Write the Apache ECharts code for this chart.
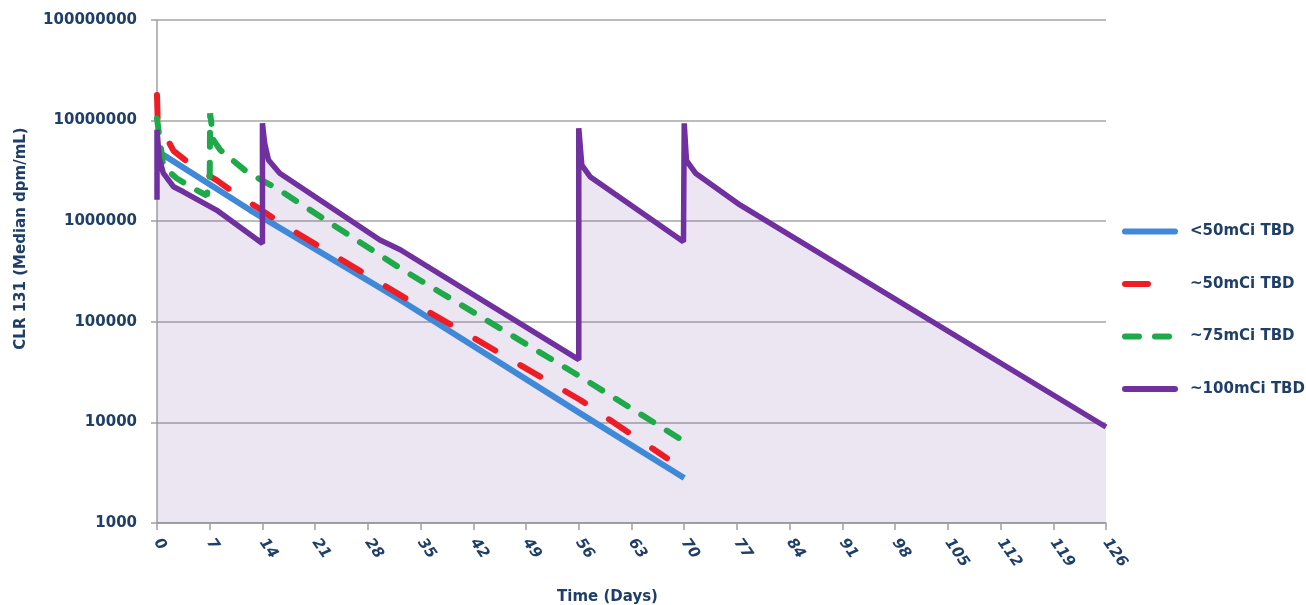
<!DOCTYPE html>
<html>
<head>
<meta charset="utf-8">
<script src="https://cdn.jsdelivr.net/npm/echarts@6/dist/echarts.min.js"></script>
<style>
  html, body { margin: 0; padding: 0; background: #fff; }
  #chart { width: 1306px; height: 605px; }
</style>
</head>
<body>
<div id="chart"></div>
<script>
// [day, median dpm/mL]
const blueData = [[0, 5.0e6], [12.35, 1.29e6], [32.3, 1.65e5], [56.2, 1.23e4], [70, 2800]];
const redData = [[0, 1.8e7], [0.1, 9.5e6], [0.8, 7.8e6], [2.2, 5.0e6], [4.8, 3.5e6], [7.9, 2.56e6],
    [11, 1.75e6], [13.2, 1.39e6], [17.2, 8.8e5], [34.5, 1.47e5], [56.2, 1.67e4], [67.7, 4400]];
const greenData = [[0, 1.05e7], [0.84, 3.5e6], [2.6, 2.67e6], [4.8, 2.12e6], [6.6, 1.8e6], [7.0, 2.5e6],
    [7.05, 1.18e7], [7.5, 6.4e6], [8.4, 5.1e6], [11.9, 3.1e6], [15.9, 2.12e6], [32.3, 3.4e5],
    [56.2, 2.85e4], [70.1, 6400]];
const purpleData = [[0, 1.63e6], [0, 8.1e6], [0.3, 4.2e6], [0.84, 3.0e6], [2.2, 2.2e6], [3.5, 1.96e6],
    [7.9, 1.29e6], [14, 6.0e5], [14, 9.4e6], [14.3, 5.9e6], [14.8, 4.06e6], [16.3, 3.0e6],
    [29.6, 6.5e5], [32.3, 5.2e5], [56, 4.2e4], [56, 8.4e6], [56.4, 3.6e6], [57.5, 2.77e6],
    [69.9, 6.25e5], [70, 6.25e5], [70, 9.4e6], [70.3, 4.0e6], [71.5, 3.0e6], [77.4, 1.45e6], [126, 9000]];
const seriesNames = ["<50mCi TBD", "~50mCi TBD", "~75mCi TBD", "~100mCi TBD"];

const textColor = "#1f3f68";
const font = "DejaVu Sans";

let chart = echarts.init(document.getElementById("chart"));

let option = {
    animation: false,
    grid: { left: 157, right: 200, top: 20, bottom: 82, outerBoundsMode: "none" },
    legend: {
        data: seriesNames,
        orient: "vertical",
        left: 1117,
        top: 219,
        itemWidth: 50,
        itemHeight: 14,
        itemGap: 37.5,
        itemStyle: { opacity: 0 },
        lineStyle: { width: 6, cap: "round" },
        textStyle: { color: textColor, fontFamily: font, fontWeight: "bold", fontSize: 15, padding: [0, 0, 0, 10] }
    },
    xAxis: {
        type: "value",
        min: 0,
        max: 126,
        interval: 7,
        name: "Time (Days)",
        nameLocation: "middle",
        nameGap: 67,
        nameTextStyle: { color: textColor, fontFamily: font, fontWeight: "bold", fontSize: 15, padding: [0, 48, 0, 0] },
        axisLine: { lineStyle: { color: "#a0a0a0", width: 1.5 } },
        axisTick: { show: true, length: 7, lineStyle: { color: "#a0a0a0", width: 1.5 } },
        axisLabel: {
            rotate: -55,
            margin: 17,
            color: textColor,
            fontFamily: font,
            fontWeight: "bold",
            fontStyle: "italic",
            fontSize: 15
        },
        splitLine: { show: false }
    },
    yAxis: {
        type: "log",
        logBase: 10,
        min: 1000,
        max: 100000000,
        name: "CLR 131 (Median dpm/mL)",
        nameLocation: "middle",
        nameGap: 128,
        nameTextStyle: { color: textColor, fontFamily: font, fontWeight: "bold", fontSize: 15, padding: [0, 0, 0, 66] },
        axisLine: { show: true, lineStyle: { color: "#a0a0a0", width: 1.5 } },
        axisTick: { show: true, length: 6, lineStyle: { color: "#a0a0a0", width: 1.5 } },
        axisLabel: {
            margin: 20,
            color: textColor,
            fontFamily: font,
            fontWeight: "bold",
            fontSize: 15,
            formatter: v => String(Math.round(v))
        },
        splitLine: { show: true, lineStyle: { color: "#a6a6a6", width: 1.5 } }
    },
    series: [
        {
            // fill under the ~100mCi curve
            name: "fill",
            type: "line",
            data: purpleData,
            symbol: "none",
            z: 1,
            lineStyle: { width: 0 },
            areaStyle: { color: "rgba(110,80,160,0.2)", origin: "start" },
            silent: true
        },
        {
            name: seriesNames[0],
            type: "line",
            data: blueData,
            symbol: "none",
            z: 2,
            lineStyle: { color: "#3f89d8", width: 6 },
            itemStyle: { color: "#3f89d8" }
        },
        {
            name: seriesNames[1],
            type: "line",
            data: redData,
            symbol: "none",
            z: 3,
            lineStyle: { color: "#ee1c24", width: 6, type: [23, 29], cap: "round" },
            itemStyle: { color: "#ee1c24" }
        },
        {
            name: seriesNames[2],
            type: "line",
            data: greenData,
            symbol: "none",
            z: 4,
            lineStyle: { color: "#1fa94b", width: 6, type: [14, 16], cap: "round" },
            itemStyle: { color: "#1fa94b" }
        },
        {
            name: seriesNames[3],
            type: "line",
            data: purpleData,
            symbol: "none",
            z: 5,
            lineStyle: { color: "#7030a0", width: 5.5 },
            itemStyle: { color: "#7030a0" }
        }
    ]
};
chart.setOption(option);
</script>
</body>
</html>
